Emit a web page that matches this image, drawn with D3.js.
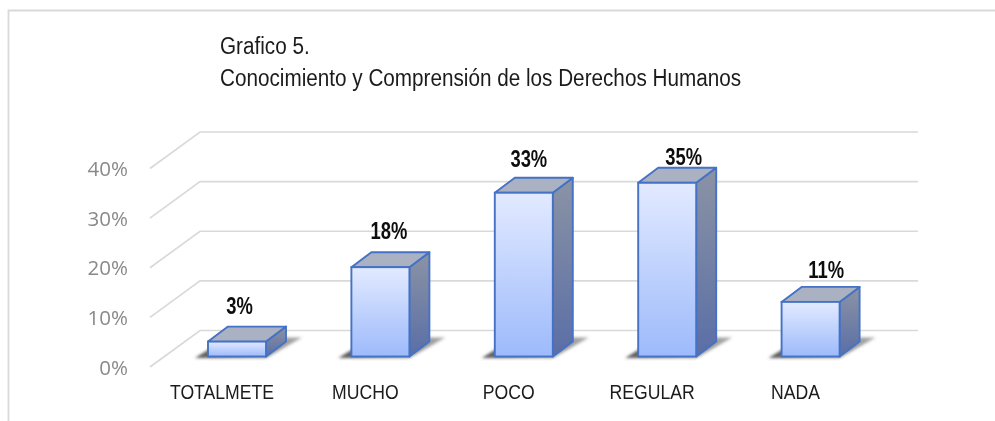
<!DOCTYPE html>
<html>
<head>
<meta charset="utf-8">
<script src="https://cdn.jsdelivr.net/npm/d3@7"></script>
<style>
    html, body { margin: 0; padding: 0; background: #fff; }
    svg { display: block; }
</style>
</head>
<body>
<div id="chart"></div>
<script>
    var categories = ["TOTALMETE", "MUCHO", "POCO", "REGULAR", "NADA"];
    var values = [3, 18, 33, 35, 11];
    var valueLabels = ["3%", "18%", "33%", "35%", "11%"];
    var yTicks = [0, 10, 20, 30, 40];
    var titleLines = ["Grafico 5.", "Conocimiento y Comprensión de los Derechos Humanos"];

    var width = 995, height = 421;
    var depthX = 20, depthY = 15;
    //No narrow face is installed, so the Arial Narrow look is made by squeezing
    var sans = "'Liberation Sans', Arial, sans-serif";

    var svg = d3.select("#chart").append("svg")
        .attr("width", width)
        .attr("height", height);

    var defs = svg.append("defs");

    function addGradient(id, x2, y2, c0, c1, o0, o1) {
        var g = defs.append("linearGradient").attr("id", id)
            .attr("x1", 0).attr("y1", 0).attr("x2", x2).attr("y2", y2);
        g.append("stop").attr("offset", "0%").attr("stop-color", c0).attr("stop-opacity", o0 === undefined ? 1 : o0);
        g.append("stop").attr("offset", "100%").attr("stop-color", c1).attr("stop-opacity", o1 === undefined ? 1 : o1);
    }

    addGradient("frontFill", 0, 1, "#e2eaff", "#9dbafb");
    addGradient("sideFill", 0, 1, "#8b93a5", "#5a6ea6");
    addGradient("shadowFill", 1, 0, "#444", "#444", 0.9, 0.45);

    defs.append("filter").attr("id", "soft")
        .attr("x", "-10%").attr("y", "-30%").attr("width", "120%").attr("height", "160%")
        .append("feGaussianBlur").attr("stdDeviation", 1.8);

    //The source is a slightly blurred screenshot
    defs.append("filter").attr("id", "scan")
        .attr("filterUnits", "userSpaceOnUse")
        .attr("x", 0).attr("y", 0).attr("width", width).attr("height", height)
        .append("feGaussianBlur").attr("stdDeviation", 0.4);

    var root = svg.append("g").attr("filter", "url(#scan)");

    root.append("rect").attr("width", width).attr("height", height).attr("fill", "#fff");

    //Outer frame: only top and left survive the crop
    root.append("path")
        .attr("d", "M8.5," + height + "V10.5H" + width)
        .attr("fill", "none")
        .attr("stroke", "#d9d9d9")
        .attr("stroke-width", 1.8);

    //Title
    root.append("g").selectAll("text")
        .data(titleLines)
        .enter().append("text")
        .attr("transform", function (d, i) { return "translate(220," + (54 + i * 31.5) + ") scale(0.845,1)"; })
        .attr("font-family", sans)
        .attr("font-size", 24.5)
        .attr("fill", "#1a1a1a")
        .text(function (d) { return d; });

    //Scales
    var y = d3.scaleLinear().domain([0, 40]).range([367, 168.5]);
    var x = d3.scaleBand().domain(categories).range([165.3, 882.3])
        .paddingInner(0.5955).paddingOuter(0.2978);

    var barLift = 10.5, backLift = 36.5;

    function barY(v) { return y(v) - barLift; }

    //Walls: the slanted and the back part of every gridline
    var gridLine = d3.line();
    root.append("g").selectAll("path")
        .data(yTicks)
        .enter().append("path")
        .attr("fill", "none")
        .attr("stroke", "#d9d9d9")
        .attr("stroke-width", 1.7)
        .attr("d", function (d) {
            var yy = y(d);
            return gridLine([[150, yy], [200, yy - backLift], [918, yy - backLift]]);
        });

    //Y axis labels
    root.append("g").selectAll("text")
        .data(yTicks)
        .enter().append("text")
        .attr("x", 128)
        .attr("y", function (d) { return y(d) + 7.5; })
        .attr("text-anchor", "end")
        .attr("font-family", "'Open Sans', sans-serif")
        .attr("font-size", 20.5)
        .attr("fill", "#8a8a8a")
        .text(function (d) { return d + "%"; });

    //Bars
    var bars = root.append("g").selectAll("g")
        .data(categories)
        .enter().append("g");

    function pts(a) { return a.map(function (p) { return p.join(","); }).join(" "); }

    bars.append("polygon")
        .attr("fill", "url(#shadowFill)")
        .attr("filter", "url(#soft)")
        .attr("points", function (d) {
            var l = x(d), r = l + x.bandwidth(), b = barY(0);
            return pts([[l - 13, b + 1.5], [r, b + 1.5], [r + 36, b - 19], [l + 20, b - 19]]);
        });

    bars.append("polygon")
        .attr("fill", "url(#sideFill)")
        .attr("stroke", "#4472c4")
        .attr("stroke-width", 1.9)
        .attr("stroke-linejoin", "round")
        .attr("points", function (d, i) {
            var r = x(d) + x.bandwidth(), t = barY(values[i]), b = barY(0);
            return pts([[r, t], [r + depthX, t - depthY], [r + depthX, b - depthY], [r, b]]);
        });

    bars.append("polygon")
        .attr("fill", "#aab1c2")
        .attr("stroke", "#4472c4")
        .attr("stroke-width", 1.9)
        .attr("stroke-linejoin", "round")
        .attr("points", function (d, i) {
            var l = x(d), r = l + x.bandwidth(), t = barY(values[i]);
            return pts([[l, t], [l + depthX, t - depthY], [r + depthX, t - depthY], [r, t]]);
        });

    bars.append("rect")
        .attr("x", function (d) { return x(d); })
        .attr("y", function (d, i) { return barY(values[i]); })
        .attr("width", x.bandwidth())
        .attr("height", function (d, i) { return barY(0) - barY(values[i]); })
        .attr("fill", "url(#frontFill)")
        .attr("stroke", "#4472c4")
        .attr("stroke-width", 1.9);

    //Value labels were dragged by hand in the original, so each has its own nudge
    var labelDx = [2.5, 8.5, 5, 16.5, 15.5];
    var labelRise = [28, 28.3, 26, 18, 24.3];

    root.append("g").selectAll("text")
        .data(valueLabels)
        .enter().append("text")
        .attr("transform", function (d, i) {
            return "translate(" + (x(categories[i]) + x.bandwidth() / 2 + labelDx[i]) + "," +
                (barY(values[i]) - labelRise[i]) + ") scale(0.8,1)";
        })
        .attr("text-anchor", "middle")
        .attr("font-family", sans)
        .attr("font-size", 23)
        .attr("font-weight", "bold")
        .attr("fill", "#111")
        .text(function (d) { return d; });

    //Category labels sit left of their bars
    root.append("g").selectAll("text")
        .data(categories)
        .enter().append("text")
        .attr("transform", function (d) {
            return "translate(" + (x(d) + x.bandwidth() / 2 - 15) + ",399) scale(0.84,1)";
        })
        .attr("text-anchor", "middle")
        .attr("font-family", sans)
        .attr("font-size", 21)
        .attr("fill", "#1a1a1a")
        .text(function (d) { return d; });
</script>
</body>
</html>
